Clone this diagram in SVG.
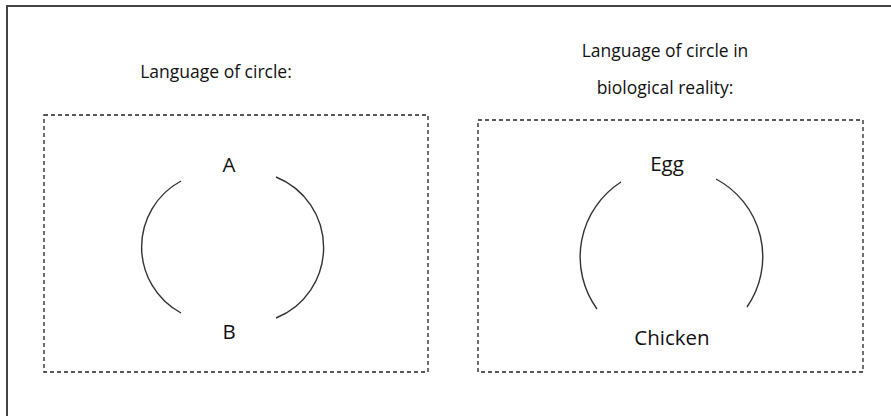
<svg xmlns="http://www.w3.org/2000/svg" width="891" height="416" viewBox="0 0 891 416">
<style>
.frame{fill:none;stroke:#444;stroke-width:2}
.box{fill:none;stroke:#222;stroke-width:1.3;stroke-dasharray:4 3}
.arc{fill:none;stroke:#333;stroke-width:1.4}
.t{font-family:"Open Sans","Liberation Sans",sans-serif;fill:#111;text-anchor:middle}
.title{font-size:17.5px}
.lbl{font-size:20.5px}
</style>
<rect width="891" height="416" fill="#fff"/>
<g id="frame"><rect class="frame" x="7" y="6" width="900" height="420"/></g>
<g id="left-panel">
  <text class="t title" x="216" y="78">Language of circle:</text>
  <rect class="box" x="44" y="115" width="384" height="257"/>
</g>
<g id="right-panel">
  <text class="t title" x="665" y="57">Language of circle in</text>
  <text class="t title" x="665" y="94">biological reality:</text>
  <rect class="box" x="478" y="120" width="385" height="252"/>
</g>
<g id="node-A"><text class="t lbl" x="229" y="172">A</text></g>
<g id="node-B"><text class="t lbl" x="229" y="339">B</text></g>
<g id="node-Egg"><text class="t lbl" x="667" y="171">Egg</text></g>
<g id="node-Chicken"><text class="t lbl" x="672" y="345">Chicken</text></g>
<g id="connectors">
  <path class="arc" d="M181,181 A75,75 0 0,0 181,313"/>
  <path class="arc" d="M276,177 A76,76 0 0,1 276,318"/>
  <path class="arc" d="M621,182 A89,89 0 0,0 597,309"/>
  <path class="arc" d="M716,179 A88,88 0 0,1 747,307"/>
</g>
</svg>
